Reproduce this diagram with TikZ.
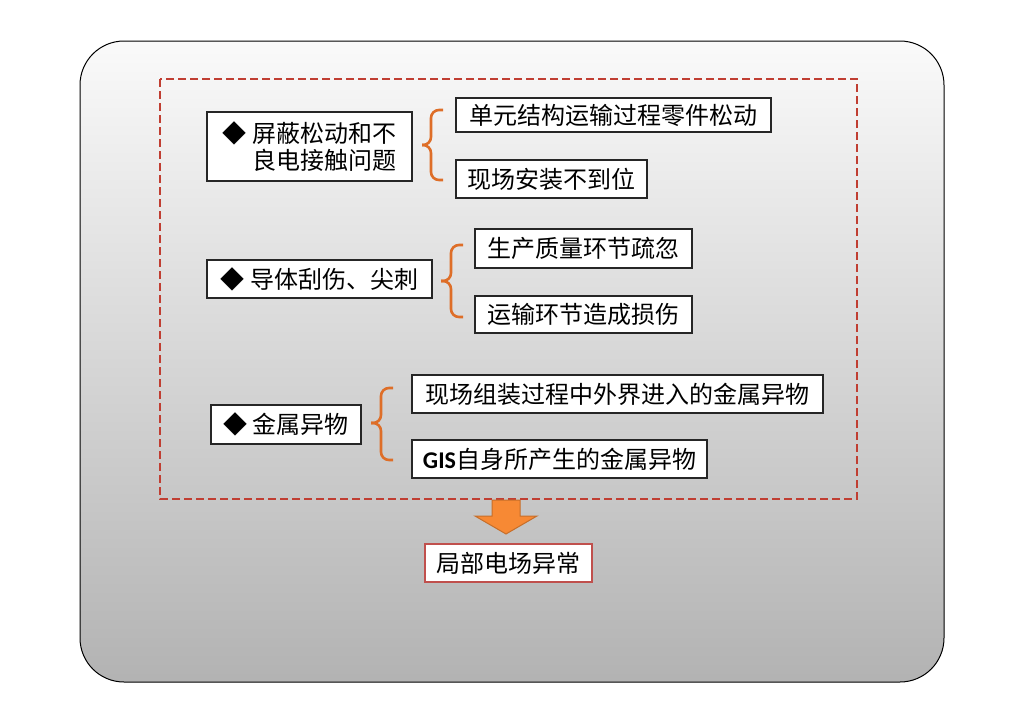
\documentclass[tikz,border=0pt]{standalone}
\usepackage{fontspec}
\setmainfont{Noto Sans CJK SC}
\newfontfamily\calib{Carlito}
\definecolor{dashred}{RGB}{192,62,50}
\definecolor{braceorg}{RGB}{222,110,40}
\definecolor{arroworg}{RGB}{247,137,52}
\definecolor{boxred}{RGB}{192,80,77}
\begin{document}
\begin{tikzpicture}[x=0.5pt, y=-0.5pt, every node/.style={draw=black!85, fill=white, line width=0.8pt, inner sep=0pt, font=\fontsize{12}{13.5}\selectfont}, brc/.style={braceorg, line width=1.3pt, rounded corners=4pt}]
        \useasboundingbox (0,0) rectangle (1024,724);
        \shadedraw[top color=black!2, middle color=black!12, bottom color=black!30, draw=black, line width=0.5pt, rounded corners=22pt] (80,41) rectangle (944,682);
        \draw[dashred, line width=1.2pt, dash pattern=on 4pt off 2pt] (160,79) rectangle (857,499);
        % causes
        \node[minimum width=102.5pt, minimum height=34.5pt, align=left] (b1) at (309.5,146.5) {◆\ 屏蔽松动和不\\\phantom{◆\ }良电接触问题};
        \node[minimum width=112.5pt, minimum height=19pt] (b2) at (319.5,279) {◆\ 导体刮伤、尖刺};
        \node[minimum width=75pt, minimum height=19.5pt] (b3) at (286,424.5) {◆\ 金属异物};
        % details
        \node[minimum width=157.5pt, minimum height=17pt] (s11) at (613.5,115) {单元结构运输过程零件松动};
        \node[minimum width=95.5pt, minimum height=19pt] (s12) at (551.5,179) {现场安装不到位};
        \node[minimum width=108.5pt, minimum height=19.5pt] (s21) at (583.5,248.5) {生产质量环节疏忽};
        \node[minimum width=108.5pt, minimum height=18.5pt] (s22) at (583.5,314.5) {运输环节造成损伤};
        \node[minimum width=205.5pt, minimum height=19pt] (s31) at (617.5,394) {现场组装过程中外界进入的金属异物};
        \node[minimum width=147.5pt, minimum height=19pt] (s32) at (559.5,459) {{\calib\bfseries GIS}自身所产生的金属异物};
        % braces
        \coordinate (t1) at (443,110);
        \coordinate (u1) at (443,180);
        \coordinate (m1) at (431,145);
        \coordinate (k1) at (422,145);
        \coordinate (t2) at (463,245);
        \coordinate (u2) at (463,317);
        \coordinate (m2) at (451,281);
        \coordinate (k2) at (441,281);
        \coordinate (t3) at (393,388);
        \coordinate (u3) at (393,460);
        \coordinate (m3) at (381,423);
        \coordinate (k3) at (371,423);
        \draw[brc] (t1) -| (m1) -- (k1);
        \draw[brc] (u1) -| (m1) -- (k1);
        \draw[brc] (t2) -| (m2) -- (k2);
        \draw[brc] (u2) -| (m2) -- (k2);
        \draw[brc] (t3) -| (m3) -- (k3);
        \draw[brc] (u3) -| (m3) -- (k3);
        % result
        \fill[arroworg, draw=arroworg!80!black, line width=0.5pt] (492,500) -- (520,500) -- (520,516) -- (537,516) -- (506,534) -- (475,516) -- (492,516) -- cycle;
        \node[draw=boxred, minimum width=83.5pt, minimum height=19pt] (res) at (508.5,563) {局部电场异常};
    \end{tikzpicture}
\end{document}
